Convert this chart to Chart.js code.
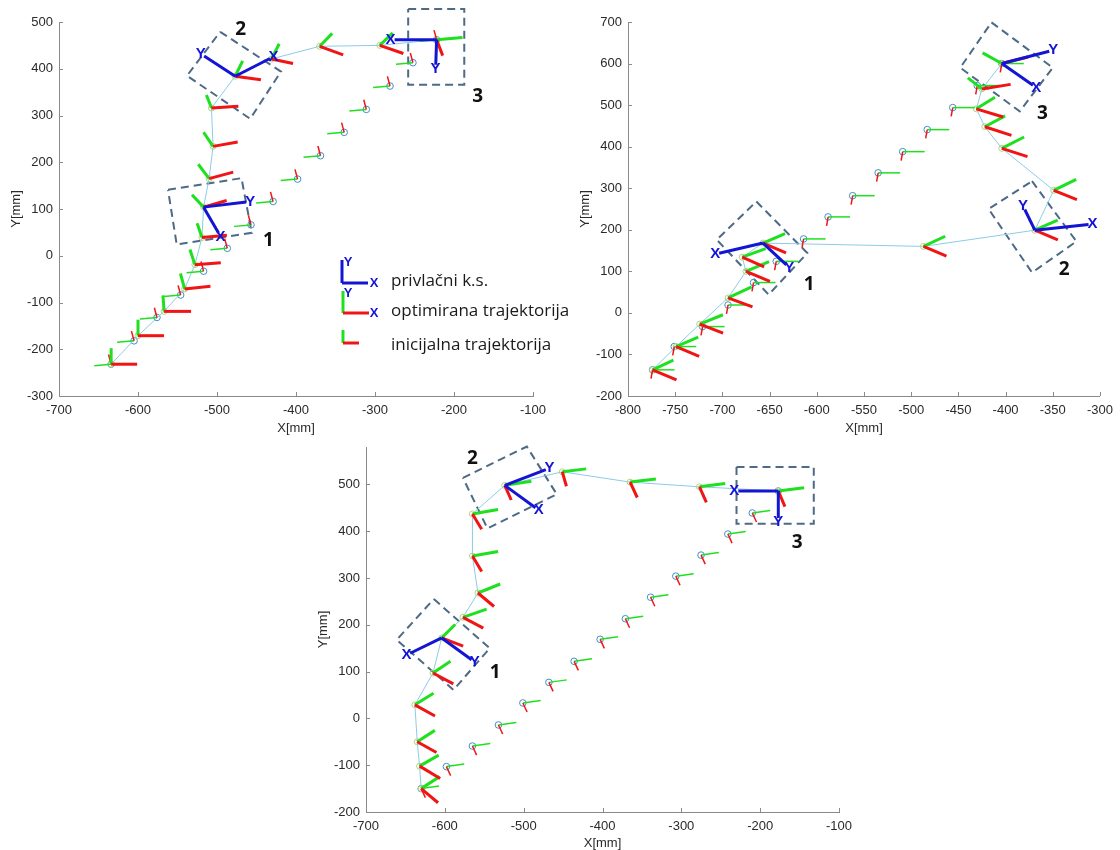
<!DOCTYPE html>
<html>
<head>
<meta charset="utf-8">
<script src="https://cdn.jsdelivr.net/npm/chart.js@4.4.0/dist/chart.umd.min.js"></script>
<style>
  body { margin: 0; background: #fff; width: 1120px; height: 850px; position: relative; overflow: hidden; }
  .pane { position: absolute; }
</style>
</head>
<body>
<div class="pane" style="left:0;top:0"><canvas id="tl" width="610" height="440"></canvas></div>
<div class="pane" style="left:560px;top:0"><canvas id="tr" width="560" height="440"></canvas></div>
<div class="pane" style="left:290px;top:425px"><canvas id="bt" width="570" height="430"></canvas></div>
<script>
// ---- top-left plot ----
const tlXTicks = [-700, -600, -500, -400, -300, -200, -100];
const tlYTicks = [-300, -200, -100, 0, 100, 200, 300, 400, 500];
const tlOptX = [-634, -600, -567, -541, -528, -519, -517, -510, -505, -507, -477, -431, -370, -294, -222];
const tlOptY = [-232, -171, -119, -71, -19, 39, 104, 165, 234, 316, 384, 421, 448, 450, 462];
const tlIniX = [-634, -605, -576, -546, -517, -487, -457, -429, -398, -369, -339, -311, -281, -252, -222];
const tlIniY = [-232, -182, -132, -84, -33, 16, 66, 116, 164, 214, 264, 313, 363, 413, 462];
// frame axes as [angle deg, length px]
const tlRed = [[0,26],[0,26],[0,27],[6,26],[4,26],[5,25],[16,24],[15,25],[10,25],[4,27],[-8,26],[-12,22],[-20,25],[-19,25],[-69,17]];
const tlGreen = [[90,16],[90,16],[94,16],[105,16],[108,16],[109,15],[133,17],[127,18],[124,17],[111,14],[64,17],[63,17],[46,18],[44,18],[5,26]];
const tlIniRed = [105, 10];
const tlIniGreen = [185, 17];
const tlAttrIdx = [6, 10, 14];
const tlAttrX = [[-60,30],[27,39],[180,42]];
const tlAttrY = [[7,43],[147,37],[-92,25]];
const tlBox1 = [[-562,141],[-469,166],[-456,49],[-551,24]];
const tlBox2 = [[-496,479],[-419,394],[-458,293],[-538,385]];
const tlBox3 = [[-258,528],[-187,528],[-187,366],[-258,366]];
const tlNums = [['1',-435,32],['2',-470,484],['3',-170,340]];

// ---- top-right plot ----
const trXTicks = [-800, -750, -700, -650, -600, -550, -500, -450, -400, -350, -300];
const trYTicks = [-200, -100, 0, 100, 200, 300, 400, 500, 600, 700];
const trOptX = [-774, -749, -724, -694, -675, -679, -657, -487, -369, -349, -404, -422, -431, -425, -404];
const trOptY = [-137, -81, -27, 36, 100, 134, 168, 160, 199, 295, 396, 448, 491, 539, 600];
const trIniX = [-774, -751, -721, -694, -667, -643, -614, -588, -562, -535, -509, -483, -456, -430, -404];
const trIniY = [-137, -81, -33, 19, 73, 124, 178, 231, 282, 337, 388, 441, 494, 547, 600];
const trRed = [[-23,26],[-23,25],[-21,25],[-20,26],[-23,26],[-24,24],[-23,25],[-23,25],[-23,25],[-22,25],[-18,27],[-18,28],[-17,28],[9,29],[14,27]];
const trGreen = [[25,23],[23,24],[22,25],[25,26],[23,25],[20,25],[23,24],[25,24],[24,25],[26,25],[27,25],[28,23],[32,22],[142,18],[151,22]];
const trIniRed = [-100, 9];
const trIniGreen = [0, 22];
const trAttrIdx = [6, 8, 14];
const trAttrX = [[193,45],[6,54],[-35,38]];
const trAttrY = [[-43,32],[116,23],[14.5,49]];
const trBox1 = [[-664,268],[-610,144],[-651,44],[-706,176]];
const trBox2 = [[-372,317],[-325,172],[-372,97],[-418,250]];
const trBox3 = [[-415,699],[-350,590],[-385,485],[-448,590]];
const trNums = [['1',-608,68],['2',-338,105],['3',-361,480]];

// ---- bottom plot ----
const btXTicks = [-700, -600, -500, -400, -300, -200, -100];
const btYTicks = [-200, -100, 0, 100, 200, 300, 400, 500];
const btOptX = [-630, -632, -635, -638, -615, -604, -577, -558, -565, -565, -524, -451, -365, -277, -177];
const btOptY = [-150, -102, -50, 29, 97, 172, 216, 268, 347, 437, 498, 527, 505, 495, 486];
const btIniX = [-630, -598, -565, -532, -501, -468, -436, -403, -371, -339, -307, -275, -241, -210, -177];
const btIniY = [-150, -103, -59, -14, 33, 77, 122, 169, 213, 259, 304, 349, 394, 439, 486];
const btRed = [[-40,22],[-31,24],[-29,22],[-29,23],[-28,23],[-21,23],[-28,23],[-40,21],[-59,18],[-59,18],[-66,16],[-74,15],[-65,17],[-66,17],[-67,17]];
const btGreen = [[33,22],[30,22],[33,21],[32,22],[34,21],[45,19],[19,25],[22,24],[10,26],[10,26],[9,27],[7,24],[7,26],[7,26],[7,26]];
const btIniRed = [-65, 10];
const btIniGreen = [8, 18];
const btAttrIdx = [5, 10, 14];
const btAttrX = [[206,35],[-36,38],[180,40]];
const btAttrY = [[-36,37],[21,44],[-90,27]];
const btBox1 = [[-614,255],[-543,150],[-589,61],[-661,168]];
const btBox2 = [[-577,514],[-496,581],[-458,479],[-546,406]];
const btBox3 = [[-230,537],[-132,537],[-132,416],[-230,416]];
const btNums = [['1',-536,98],['2',-565,555],['3',-153,376]];

const RED = '#f01414', GREEN = '#1fe01f', BLUE = '#1414d4';
const PATH = '#8ccbe8', OPTPT = '#b5d27e', INIPT = '#3f8fc8', BOX = '#4d6a86';
const AXIS = '#8a8a8a', TICK = '#2a2a2a';
const FONT = 'Liberation Sans, Arial, sans-serif';

function seg(ctx, x, y, a, len, color, w) {
  const r = a * Math.PI / 180;
  ctx.beginPath();
  ctx.moveTo(x, y);
  ctx.lineTo(x + len * Math.cos(r), y - len * Math.sin(r));
  ctx.strokeStyle = color;
  ctx.lineWidth = w;
  ctx.stroke();
}

function label(ctx, t, x, y, color, font, align) {
  ctx.fillStyle = color;
  ctx.font = font;
  ctx.textAlign = align || 'center';
  ctx.textBaseline = 'middle';
  ctx.fillText(t, x, y);
}

function drawLegend(ctx, ca) {
  const x0 = ca.left + 283, y0 = ca.top + 261;
  const lf = 'bold 13px ' + FONT;
  seg(ctx, x0, y0, 90, 23, BLUE, 3);
  seg(ctx, x0, y0, 0, 26, BLUE, 3);
  label(ctx, 'Y', x0 + 6, y0 - 21, BLUE, lf);
  label(ctx, 'X', x0 + 32, y0, BLUE, lf);
  seg(ctx, x0 + 1, y0 + 30, 90, 22, GREEN, 3);
  seg(ctx, x0 + 1, y0 + 30, 0, 26, RED, 3);
  label(ctx, 'Y', x0 + 6, y0 + 10, BLUE, lf);
  label(ctx, 'X', x0 + 32, y0 + 30, BLUE, lf);
  seg(ctx, x0 + 1, y0 + 60, 90, 13, GREEN, 3);
  seg(ctx, x0 + 1, y0 + 60, 0, 16, RED, 3);
  const tf = '17px Open Sans, sans-serif';
  label(ctx, 'privlačni k.s.', x0 + 49, y0 - 2, '#1a1a1a', tf, 'left');
  label(ctx, 'optimirana trajektorija', x0 + 49, y0 + 28, '#1a1a1a', tf, 'left');
  label(ctx, 'inicijalna trajektorija', x0 + 49, y0 + 62, '#1a1a1a', tf, 'left');
}

const framePlugin = {
  id: 'frames',
  afterDatasetsDraw(chart) {
    const f = chart.options.plugins.frames;
    const ctx = chart.ctx, ca = chart.chartArea;
    const xs = chart.scales.x, ys = chart.scales.y;
    ctx.save();
    // inward tick marks
    ctx.strokeStyle = AXIS;
    ctx.lineWidth = 1;
    f.xTicks.forEach(v => {
      const x = Math.round(xs.getPixelForValue(v)) + 0.5;
      ctx.beginPath(); ctx.moveTo(x, ca.bottom); ctx.lineTo(x, ca.bottom - 4); ctx.stroke();
    });
    f.yTicks.forEach(v => {
      const y = Math.round(ys.getPixelForValue(v)) + 0.5;
      ctx.beginPath(); ctx.moveTo(ca.left, y); ctx.lineTo(ca.left + 4, y); ctx.stroke();
    });
    // initial trajectory frames
    f.iniX.forEach((v, i) => {
      const x = xs.getPixelForValue(v), y = ys.getPixelForValue(f.iniY[i]);
      seg(ctx, x, y, f.iniGreen[0], f.iniGreen[1], GREEN, 1.5);
      seg(ctx, x, y, f.iniRed[0], f.iniRed[1], RED, 1.5);
    });
    // optimized trajectory frames
    f.optX.forEach((v, i) => {
      const x = xs.getPixelForValue(v), y = ys.getPixelForValue(f.optY[i]);
      seg(ctx, x, y, f.green[i][0], f.green[i][1], GREEN, 3);
      seg(ctx, x, y, f.red[i][0], f.red[i][1], RED, 3);
    });
    // attractor frames
    const bf = 'bold 15px ' + FONT;
    f.attrIdx.forEach((k, j) => {
      const x = xs.getPixelForValue(f.optX[k]), y = ys.getPixelForValue(f.optY[k]);
      [[f.attrX[j], 'X'], [f.attrY[j], 'Y']].forEach(([ax, t]) => {
        seg(ctx, x, y, ax[0], ax[1], BLUE, 3);
        const r = ax[0] * Math.PI / 180, d = ax[1] + 4;
        label(ctx, t, x + d * Math.cos(r), y - d * Math.sin(r), BLUE, bf);
      });
    });
    // box numbers
    f.nums.forEach(([t, vx, vy]) => {
      label(ctx, t, xs.getPixelForValue(vx), ys.getPixelForValue(vy), '#111', 'bold 19px Open Sans, sans-serif');
    });
    if (f.legend) drawLegend(ctx, ca);
    ctx.restore();
  }
};

function pts(xs, ys) { return xs.map((x, i) => ({ x: x, y: ys[i] })); }

function makeChart(id, d) {
  const boxes = d.boxes.map(b => ({
    data: b.concat([b[0]]).map(p => ({ x: p[0], y: p[1] })),
    showLine: true, borderColor: BOX, borderWidth: 2, borderDash: [8, 5],
    pointRadius: 0, clip: false
  }));
  const tickFont = { family: FONT, size: 13 };
  new Chart(document.getElementById(id), {
    type: 'scatter',
    data: {
      datasets: [
        { data: pts(d.optX, d.optY), showLine: true, borderColor: PATH, borderWidth: 1,
          pointRadius: 3, pointBorderColor: OPTPT, pointBackgroundColor: 'rgba(0,0,0,0)', pointBorderWidth: 1 },
        { data: pts(d.iniX, d.iniY), showLine: false,
          pointRadius: 3.3, pointBorderColor: INIPT, pointBackgroundColor: 'rgba(0,0,0,0)', pointBorderWidth: 1 },
        ...boxes
      ]
    },
    options: {
      responsive: false,
      animation: false,
      layout: { padding: d.pad },
      plugins: {
        legend: { display: false },
        tooltip: { enabled: false },
        frames: d
      },
      scales: {
        x: {
          type: 'linear', min: d.xTicks[0], max: d.xTicks[d.xTicks.length - 1],
          afterBuildTicks: s => { s.ticks = d.xTicks.map(v => ({ value: v })); },
          afterFit: s => { s.height = d.xH; },
          grid: { display: false, drawTicks: false },
          border: { display: true, color: AXIS, width: 1 },
          ticks: { color: TICK, font: tickFont, padding: 7, maxRotation: 0, autoSkip: false, callback: v => String(v) },
          title: { display: true, text: 'X[mm]', color: TICK, font: tickFont, padding: { top: 0, bottom: 0 } }
        },
        y: {
          type: 'linear', min: d.yTicks[0], max: d.yMax,
          afterBuildTicks: s => { s.ticks = d.yTicks.map(v => ({ value: v })); },
          afterFit: s => { s.width = d.yW; },
          grid: { display: false, drawTicks: false },
          border: { display: true, color: AXIS, width: 1 },
          ticks: { color: TICK, font: tickFont, padding: 6, autoSkip: false, callback: v => String(v) },
          title: { display: true, text: 'Y[mm]', color: TICK, font: tickFont, padding: { top: d.yTitlePad, bottom: 0 } }
        }
      }
    },
    plugins: [framePlugin]
  });
}

makeChart('tl', {
  xTicks: tlXTicks, yTicks: tlYTicks, yMax: 500,
  optX: tlOptX, optY: tlOptY, iniX: tlIniX, iniY: tlIniY,
  red: tlRed, green: tlGreen, iniRed: tlIniRed, iniGreen: tlIniGreen,
  attrIdx: tlAttrIdx, attrX: tlAttrX, attrY: tlAttrY,
  boxes: [tlBox1, tlBox2, tlBox3], nums: tlNums, legend: true,
  pad: { left: 0, top: 22, right: 77, bottom: 4 }, xH: 40, yW: 59, yTitlePad: 9
});

makeChart('tr', {
  xTicks: trXTicks, yTicks: trYTicks, yMax: 700,
  optX: trOptX, optY: trOptY, iniX: trIniX, iniY: trIniY,
  red: trRed, green: trGreen, iniRed: trIniRed, iniGreen: trIniGreen,
  attrIdx: trAttrIdx, attrX: trAttrX, attrY: trAttrY,
  boxes: [trBox1, trBox2, trBox3], nums: trNums, legend: false,
  pad: { left: 0, top: 22, right: 17, bottom: 4 }, xH: 40, yW: 68, yTitlePad: 18
});

makeChart('bt', {
  xTicks: btXTicks, yTicks: btYTicks, yMax: 580,
  optX: btOptX, optY: btOptY, iniX: btIniX, iniY: btIniY,
  red: btRed, green: btGreen, iniRed: btIniRed, iniGreen: btIniGreen,
  attrIdx: btAttrIdx, attrX: btAttrX, attrY: btAttrY,
  boxes: [btBox1, btBox2, btBox3], nums: btNums, legend: false,
  pad: { left: 0, top: 22, right: 21, bottom: 4 }, xH: 39, yW: 76, yTitlePad: 26
});
</script>
</body>
</html>
